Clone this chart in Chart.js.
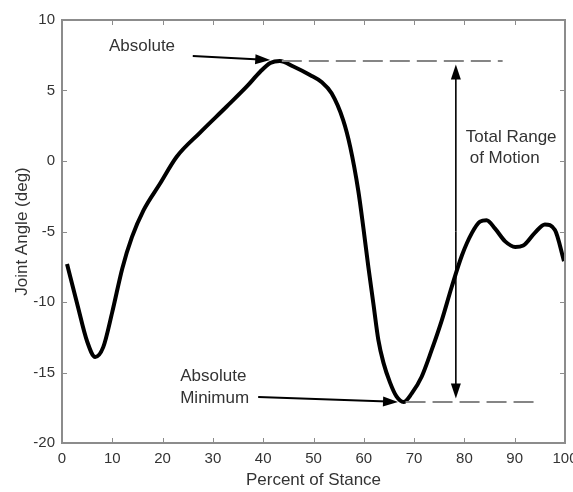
<!DOCTYPE html>
<html>
<head>
<meta charset="utf-8">
<script src="https://cdn.jsdelivr.net/npm/chart.js@4/dist/chart.umd.min.js"></script>
<style>
  html, body { margin: 0; padding: 0; background: #fff; }
  #wrap { width: 573px; height: 492px; }
</style>
</head>
<body>
<div id="wrap"><canvas id="chart" width="573" height="492"></canvas></div>
<script>
// ================= DATA =================
const stance = [1, 3, 5, 6.6, 8.2, 10, 12, 13.9, 16.2, 19.5, 22.8, 27.4, 32.7, 36.7, 39.4, 41.4, 43.3,
  46, 49.3, 51.6, 53.6, 55.9, 57.3, 58.9, 59.9, 60.9, 61.9, 62.9, 63.9, 65.2, 66.5, 67.9,
  69.5, 71.5, 73.5, 75.5, 77.5, 79.5, 81.5, 83.1, 84.4, 86.1, 88.1, 90.1, 91.7, 94, 96, 98, 99.8];
const angle = [-7.3, -10.1, -12.8, -13.9, -13.2, -10.7, -7.6, -5.4, -3.5, -1.6, 0.3, 2.0, 3.85, 5.27, 6.33, 6.95, 7.1,
  6.7, 6.1, 5.6, 4.8, 2.9, 1.0, -2.1, -4.7, -7.5, -10.1, -12.7, -14.3, -15.7, -16.7, -17.1,
  -16.5, -15.3, -13.4, -11.3, -8.9, -6.7, -5.1, -4.3, -4.2, -4.8, -5.7, -6.1, -6.0, -5.1, -4.5, -4.9, -7.1];

// dashed reference lines (x range, y level)
const maxLineX = [43.7, 87.6];
const maxLineY = 7.1;
const minLineX = [68.3, 94];
const minLineY = -17.1;

const xTickValues = [0, 10, 20, 30, 40, 50, 60, 70, 80, 90, 100];
const yTickValues = [-20, -15, -10, -5, 0, 5, 10];

const FONT = "'Liberation Sans', Arial, Helvetica, sans-serif";
const TEXT = "#333";
const FRAME = "#8c8c8c";

// ================= HELPERS =================
function arrow(ctx, x1, y1, x2, y2, len, half) {
  const a = Math.atan2(y2 - y1, x2 - x1);
  const c = Math.cos(a), s = Math.sin(a);
  ctx.beginPath();
  ctx.moveTo(x1, y1);
  ctx.lineTo(x2 - c * len * 0.7, y2 - s * len * 0.7);
  ctx.stroke();
  ctx.beginPath();
  ctx.moveTo(x2, y2);
  ctx.lineTo(x2 - len * c + half * s, y2 - len * s - half * c);
  ctx.lineTo(x2 - len * c - half * s, y2 - len * s + half * c);
  ctx.closePath();
  ctx.fill();
}

// frame, inward ticks and annotations
const overlay = {
  id: "overlay",
  afterDatasetsDraw(chart) {
    const { ctx, chartArea: a, scales: { x, y } } = chart;
    const px = v => x.getPixelForValue(v);
    const py = v => y.getPixelForValue(v);
    ctx.save();

    ctx.strokeStyle = FRAME;
    ctx.lineWidth = 2;
    ctx.strokeRect(a.left, a.top, a.right - a.left, a.bottom - a.top);

    ctx.lineWidth = 1;
    ctx.beginPath();
    x.ticks.forEach(t => {
      const p = Math.round(px(t.value)) + 0.5;
      ctx.moveTo(p, a.bottom); ctx.lineTo(p, a.bottom - 5);
      ctx.moveTo(p, a.top); ctx.lineTo(p, a.top + 5);
    });
    y.ticks.forEach(t => {
      const p = Math.round(py(t.value)) + 0.5;
      ctx.moveTo(a.left, p); ctx.lineTo(a.left + 5, p);
      ctx.moveTo(a.right, p); ctx.lineTo(a.right - 5, p);
    });
    ctx.stroke();

    // arrows
    ctx.strokeStyle = "#000";
    ctx.fillStyle = "#000";
    ctx.lineWidth = 2;
    arrow(ctx, px(26), py(7.45), px(41.4), py(7.16), 15, 5);
    arrow(ctx, px(39), py(-16.74), px(66.8), py(-17.09), 15, 5);
    ctx.lineWidth = 1.6;
    const vx = px(78.3);
    arrow(ctx, vx, py(-5), vx, py(6.85), 15, 5);
    arrow(ctx, vx, py(-5), vx, py(-16.85), 15, 5);

    // texts
    ctx.fillStyle = TEXT;
    ctx.font = "17px " + FONT;
    ctx.textBaseline = "middle";
    ctx.textAlign = "center";
    ctx.fillText("Absolute", px(15.9), py(8.15));
    ctx.fillText("Total Range", px(89.3), py(1.7));
    ctx.fillText("of Motion", px(88), py(0.2));
    ctx.textAlign = "left";
    ctx.fillText("Absolute", px(23.5), py(-15.25));
    ctx.fillText("Minimum", px(23.5), py(-16.8));
    ctx.restore();
  }
};

// ================= CHART =================
const chart = new Chart(document.getElementById("chart"), {
  type: "line",
  data: {
    datasets: [
      {
        data: maxLineX.map(v => ({ x: v, y: maxLineY })),
        borderColor: "#858585",
        borderWidth: 2,
        borderDash: [20, 7],
        pointRadius: 0
      },
      {
        data: minLineX.map(v => ({ x: v, y: minLineY })),
        borderColor: "#858585",
        borderWidth: 2,
        borderDash: [20, 7],
        pointRadius: 0
      },
      {
        data: stance.map((v, i) => ({ x: v, y: angle[i] })),
        borderColor: "#000",
        borderWidth: 4,
        pointRadius: 0,
        tension: 0.35,
        cubicInterpolationMode: "monotone"
      }
    ]
  },
  options: {
    responsive: false,
    animation: false,
    layout: { padding: { top: 20, right: 8, left: 0, bottom: 0 } },
    plugins: { legend: { display: false }, tooltip: { enabled: false } },
    scales: {
      x: {
        type: "linear",
        min: 0,
        max: 100,
        afterBuildTicks: s => { s.ticks = xTickValues.map(v => ({ value: v })); },
        afterFit: s => { s.height = 49; s.paddingLeft = 0; s.paddingRight = 0; },
        ticks: { color: TEXT, font: { family: FONT, size: 15 }, padding: 7, maxRotation: 0 },
        grid: { display: false, drawTicks: false },
        border: { display: false },
        title: {
          display: true,
          text: "Percent of Stance",
          color: TEXT,
          font: { family: FONT, size: 17 },
          padding: { top: 0, bottom: 1 }
        }
      },
      y: {
        min: -20,
        max: 10,
        afterBuildTicks: s => { s.ticks = yTickValues.map(v => ({ value: v })); },
        afterFit: s => { s.width = 62; s.paddingTop = 0; s.paddingBottom = 0; },
        ticks: { color: TEXT, font: { family: FONT, size: 15 }, padding: 7 },
        grid: { display: false, drawTicks: false },
        border: { display: false },
        title: {
          display: true,
          text: "Joint Angle (deg)",
          color: TEXT,
          font: { family: FONT, size: 17 },
          padding: { top: 12, bottom: 0 }
        }
      }
    }
  },
  plugins: [overlay]
});
</script>
</body>
</html>
